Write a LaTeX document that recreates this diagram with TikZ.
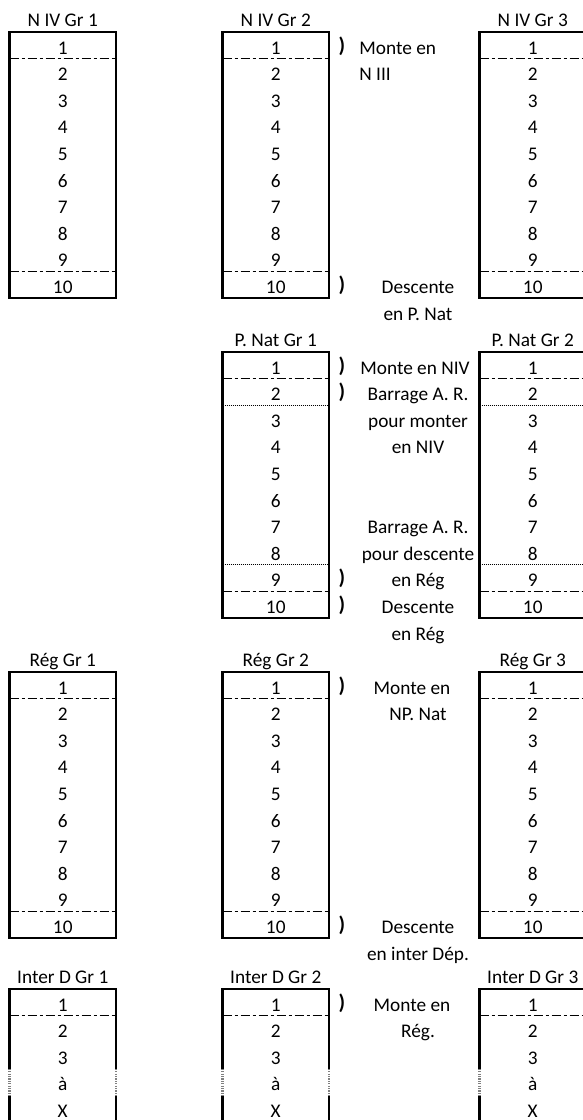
\documentclass[tikz,border=0pt]{standalone}
\usepackage{fontspec}
\setmainfont{Carlito}
\usepackage{tikz}
\tikzset{x=0.5pt, y=0.5pt,
every node/.style={ % Sets the properties for each cell text
inner sep=0pt,
anchor=base,
font=\fontsize{9.65}{11.6}\selectfont},
grbox/.style={draw, line width=1.2pt}, % Outline of a group
splitA/.style={line width=0.8pt, dash pattern=on 4.5pt off 1.5pt on 1.5pt off 1.5pt}, % dash-dot split
splitB/.style={line width=0.5pt, dash pattern=on 0.5pt off 0.5pt}, % dotted split
cut/.style={gray, line width=1.2pt, dash pattern=on 0.6pt off 0.6pt}, % broken side
brace/.style={font=\fontsize{10.5}{12}\selectfont\bfseries}}
% title and rows of one group: name, centre x, top y, title, rows
\newcommand{\grcol}[5]{%
\node (#1) at (#2,#3+6) {#4};
\foreach \t [count=\i] in {#5}
  \node (#1-\i) at (#2,#3-22-26.6*\i+26.6) {\t};
}

\begin{document}
\begin{tikzpicture}
\useasboundingbox (0,0) rectangle (583,-1120);
\clip (0,0) rectangle (583,-1120);

% N IV
\foreach \c/\x in {1/62.75,2/275.75,3/532.75}{
  \grcol{niv\c}{\x}{-32}{N IV Gr \c}{1,...,10}
  \draw[grbox] (\x-53.25,-32) rectangle ++(106.5,-266);
  \draw[splitA] (\x-53.25,-58.6) -- ++(106.5,0) (\x-53.25,-271.4) -- ++(106.5,0);
}
\node[brace] (bniv1) at (342,-52) {)};
\node[brace] (bniv10) at (342,-291.4) {)};
\node[anchor=base west] (monteIII) at (359,-54) {Monte en};
\node[anchor=base west] (monteIIIb) at (359,-80.6) {N III};
\node (descP) at (418,-293.4) {Descente};
\node (descPb) at (418,-320) {en P. Nat};

% P. Nat
\foreach \c/\x in {1/275.75,2/532.75}{
  \grcol{pnat\c}{\x}{-352}{P. Nat Gr \c}{1,...,10}
  \draw[grbox] (\x-53.25,-352) rectangle ++(106.5,-266);
  \draw[splitA] (\x-53.25,-378.6) -- ++(106.5,0) (\x-53.25,-591.4) -- ++(106.5,0);
  \draw[splitB] (\x-53.25,-405.2) -- ++(106.5,0) (\x-53.25,-564.8) -- ++(106.5,0);
}
\node[brace] (bpnat1) at (342,-372) {)};
\node[brace] (bpnat2) at (342,-398.6) {)};
\node[brace] (bpnat9) at (342,-584.8) {)};
\node[brace] (bpnat10) at (342,-611.4) {)};
\node (monteNIV) at (415,-374) {Monte en NIV};
\node (barrA) at (418,-400.6) {Barrage A. R.};
\node (barrAb) at (418,-427.2) {pour monter};
\node (barrAc) at (418,-453.8) {en NIV};
\node (barrB) at (418,-533.6) {Barrage A. R.};
\node (barrBb) at (418,-560.2) {pour descente};
\node (barrBc) at (418,-586.8) {en Rég};
\node (descR) at (418,-613.4) {Descente};
\node (descRb) at (418,-640) {en Rég};

% Rég
\foreach \c/\x in {1/62.75,2/275.75,3/532.75}{
  \grcol{reg\c}{\x}{-672}{Rég Gr \c}{1,...,10}
  \draw[grbox] (\x-53.25,-672) rectangle ++(106.5,-266);
  \draw[splitA] (\x-53.25,-698.6) -- ++(106.5,0) (\x-53.25,-911.4) -- ++(106.5,0);
}
\node[brace] (breg1) at (342,-692) {)};
\node[brace] (breg10) at (342,-931.4) {)};
\node (montePN) at (412,-694) {Monte en};
\node (montePNb) at (418,-720.6) {NP. Nat};
\node (descD) at (418,-933.4) {Descente};
\node (descDb) at (418,-960) {en inter Dép.};

% Inter D
\foreach \c/\x in {1/62.75,2/275.75,3/532.75}{
  \grcol{interd\c}{\x}{-989}{Inter D Gr \c}{1,2,3,à,X}
  \draw[grbox] (\x-53.25,-1068.8) |- (\x+53.25,-989) -- (\x+53.25,-1068.8);
  \draw[grbox] (\x-53.25,-1095.4) -- (\x-53.25,-1255) -- (\x+53.25,-1255) -- (\x+53.25,-1095.4);
  \draw[cut] (\x-53.25,-1068.8) -- ++(0,-26.6) (\x+53.25,-1068.8) -- ++(0,-26.6);
  \draw[splitA] (\x-53.25,-1015.6) -- ++(106.5,0);
}
\node[brace] (binterd1) at (342,-1009) {)};
\node (monteR) at (412,-1011) {Monte en};
\node (monteRb) at (418,-1037.6) {Rég.};
\end{tikzpicture}
\end{document}
